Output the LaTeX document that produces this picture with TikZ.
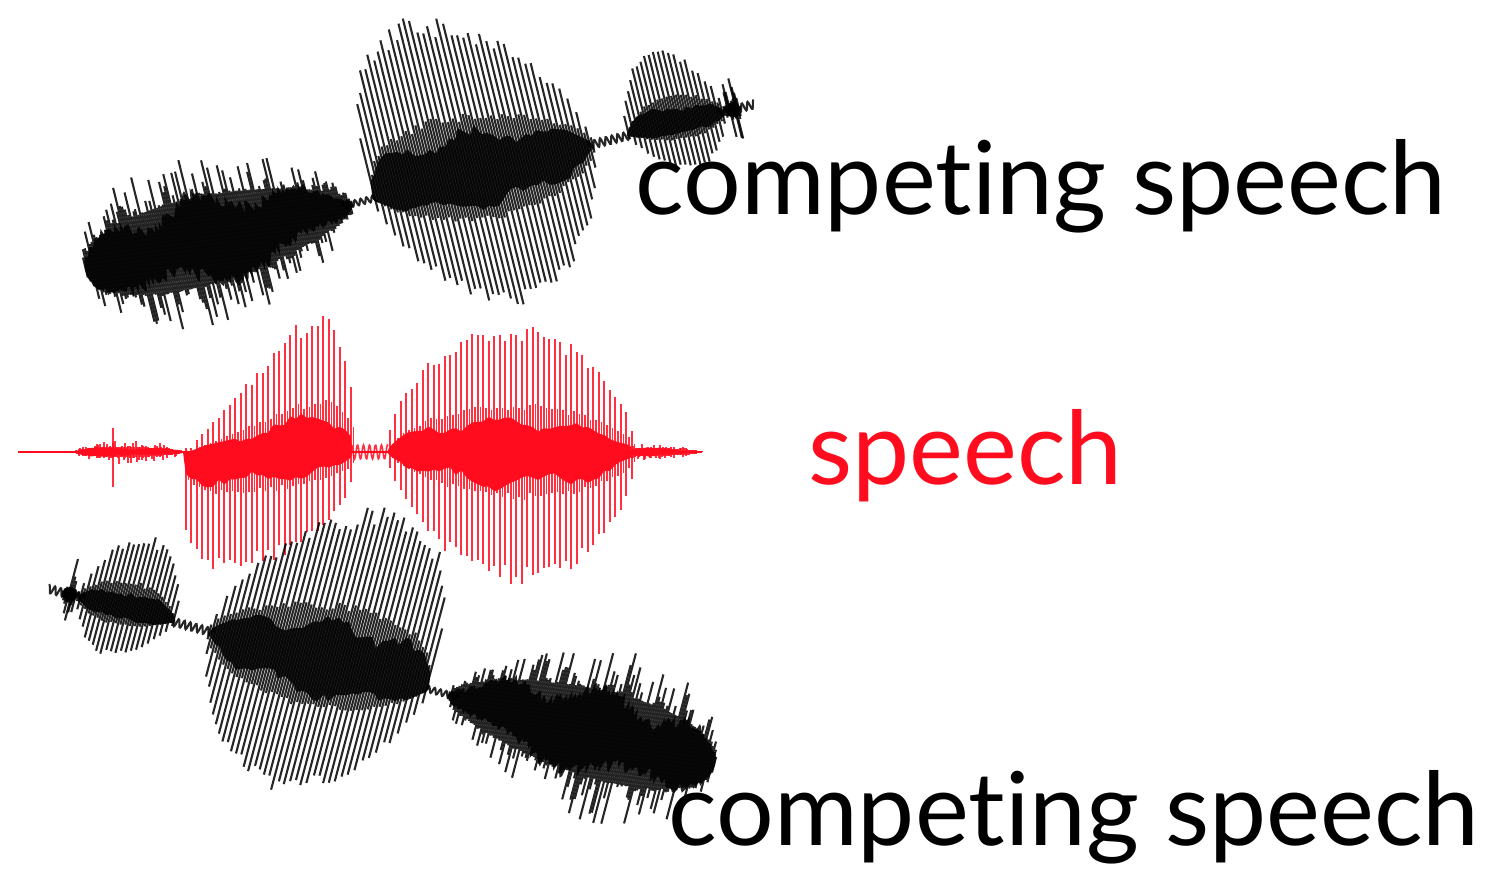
\documentclass[tikz,border=0pt]{standalone}
\usepackage{fontspec}
\setmainfont{Lato}[Ligatures=NoCommon]
\definecolor{SpeechRed}{HTML}{FF0D1F}
\tikzset{
  spikeline/.style={draw=black,line width=0.6pt},
  corefill/.style={fill=black},
  wavelabel/.style={inner sep=0pt,anchor=base west,font=\fontsize{58}{60}\selectfont}
}

% voiced stretch: from, to, period, up amp, down amp, up peak, down peak, edge exponent
\newcommand{\voiced}[8]{%
  \pgfmathsetmacro{\ku}{ln(0.5)/ln(#6)}%
  \pgfmathsetmacro{\kd}{ln(0.5)/ln(#7)}%
  \pgfmathtruncatemacro{\np}{(#2-#1)/#3}%
  \fill[corefill] (#1,0)
    \foreach \i in {0,...,\np}{
      -- ({#1+(\i+0.5)*#3},{0.24*#4*(0.8+0.3*rnd+0.2*sin(\i*23))*pow(sin(180*pow((\i+0.5)/(\np+1),\ku)),#8)})
    } -- (#2,0)
    \foreach \i in {\np,...,0}{
      -- ({#1+(\i+0.5)*#3},{-0.24*#5*(0.8+0.3*rnd+0.2*sin(\i*23))*pow(sin(180*pow((\i+0.5)/(\np+1),\kd)),#8)})
    } -- cycle;
  \foreach \i in {0,...,\np}{
    \pgfmathsetmacro{\tpos}{(\i+0.5)/(\np+1)}
    \pgfmathsetmacro{\hiamp}{#4*(0.86+0.14*rnd)*pow(sin(180*pow(\tpos,\ku)),#8)}
    \pgfmathsetmacro{\loamp}{#5*(0.86+0.14*rnd)*pow(sin(180*pow(\tpos,\kd)),#8)}
    \pgfmathsetmacro{\xpos}{#1+(\i+0.5)*#3}
    \draw[spikeline] (\xpos,-\loamp) -- (\xpos,\hiamp);
    \draw[spikeline] (\xpos+0.5*#3,-0.36*\loamp) -- (\xpos+0.5*#3,0.38*\hiamp);
  }%
}

% noisy stretch: from, to, step, amp, core amp, peak
\newcommand{\noisy}[6]{%
  \pgfmathsetmacro{\kn}{ln(0.5)/ln(#6)}%
  \pgfmathtruncatemacro{\np}{(#2-#1)/#3}%
  \fill[corefill] (#1,0)
    \foreach \i in {0,...,\np}{
      -- ({#1+(\i+0.5)*#3},{#5*(0.65+0.35*rnd+0.25*sin(\i*7.3))*pow(sin(180*pow((\i+0.5)/(\np+1),\kn)),0.55)})
    } -- (#2,0)
    \foreach \i in {\np,...,0}{
      -- ({#1+(\i+0.5)*#3},{-#5*(0.65+0.35*rnd+0.25*sin(\i*5.1+60))*pow(sin(180*pow((\i+0.5)/(\np+1),\kn)),0.55)})
    } -- cycle;
  \foreach \i in {0,...,\np}{
    \pgfmathsetmacro{\envn}{pow(sin(180*pow((\i+0.5)/(\np+1),\kn)),0.55)}
    \pgfmathsetmacro{\hiamp}{\envn*(#5+(#4-#5)*pow(rnd,3))}
    \pgfmathsetmacro{\loamp}{\envn*(#5+(#4-#5)*pow(rnd,3))}
    \pgfmathsetmacro{\xpos}{#1+(\i+0.5)*#3}
    \draw[spikeline] (\xpos,-\loamp) -- (\xpos,\hiamp);
  }%
}

% small ripple: from, length, amplitude
\newcommand{\ripple}[3]{%
  \draw[spikeline] plot[domain=0:#2,samples=60] ({#1+\x},{#3*sin(\x*60)});
}

% one competing talker, laid out along its own baseline
\newcommand{\competingwave}{%
  \noisy{0}{275}{2}{88}{44}{0.4}
  \ripple{265}{35}{3}
  \voiced{296}{522}{5.4}{168}{140}{0.33}{0.55}{0.55}
  \ripple{518}{42}{4}
  \voiced{558}{658}{4.8}{78}{50}{0.45}{0.6}{0.6}
  \ripple{652}{38}{4}
  \noisy{660}{674}{1}{38}{7}{0.5}
}

\begin{document}
\begin{tikzpicture}[x=0.02cm,y=0.02cm]
  \useasboundingbox (0,0) rectangle (1502,873);
  \pgfmathsetseed{4123}

  % target talker
  \begin{scope}[shift={(0,421)},
      spikeline/.style={draw=SpeechRed,draw opacity=0.85,line width=0.9pt},
      corefill/.style={fill=SpeechRed}]
    \draw[SpeechRed,line width=0.8pt] (18,0) -- (702,0);
    \noisy{75}{183}{1.5}{12}{5}{0.45}
    \draw[spikeline] (113,-35) -- (113,24);
    \voiced{183}{352}{5.5}{140}{120}{0.8}{0.25}{0.35}
    \ripple{350}{38}{7}
    \voiced{387}{630}{5.5}{128}{133}{0.5}{0.55}{0.5}
    \noisy{628}{702}{1.5}{8}{4}{0.3}
  \end{scope}

  % competing talkers
  \begin{scope}[shift={(85,603)},rotate=13.9,
      spikeline/.style={draw=black,draw opacity=0.85,line width=1.2pt},
      corefill/.style={fill=black,fill opacity=0.85}]
    \competingwave
  \end{scope}
  \begin{scope}[shift={(715,108)},rotate=-14.8,xscale=-1,
      spikeline/.style={draw=black,draw opacity=0.85,line width=1.2pt},
      corefill/.style={fill=black,fill opacity=0.85}]
    \competingwave
  \end{scope}

  % labels
  \node[wavelabel] (toplabel) at (635,658) {competing speech};
  \node[wavelabel,text=SpeechRed] (midlabel) at (808,388) {speech};
  \node[wavelabel] (botlabel) at (668,28) {competing speech};
\end{tikzpicture}
\end{document}
